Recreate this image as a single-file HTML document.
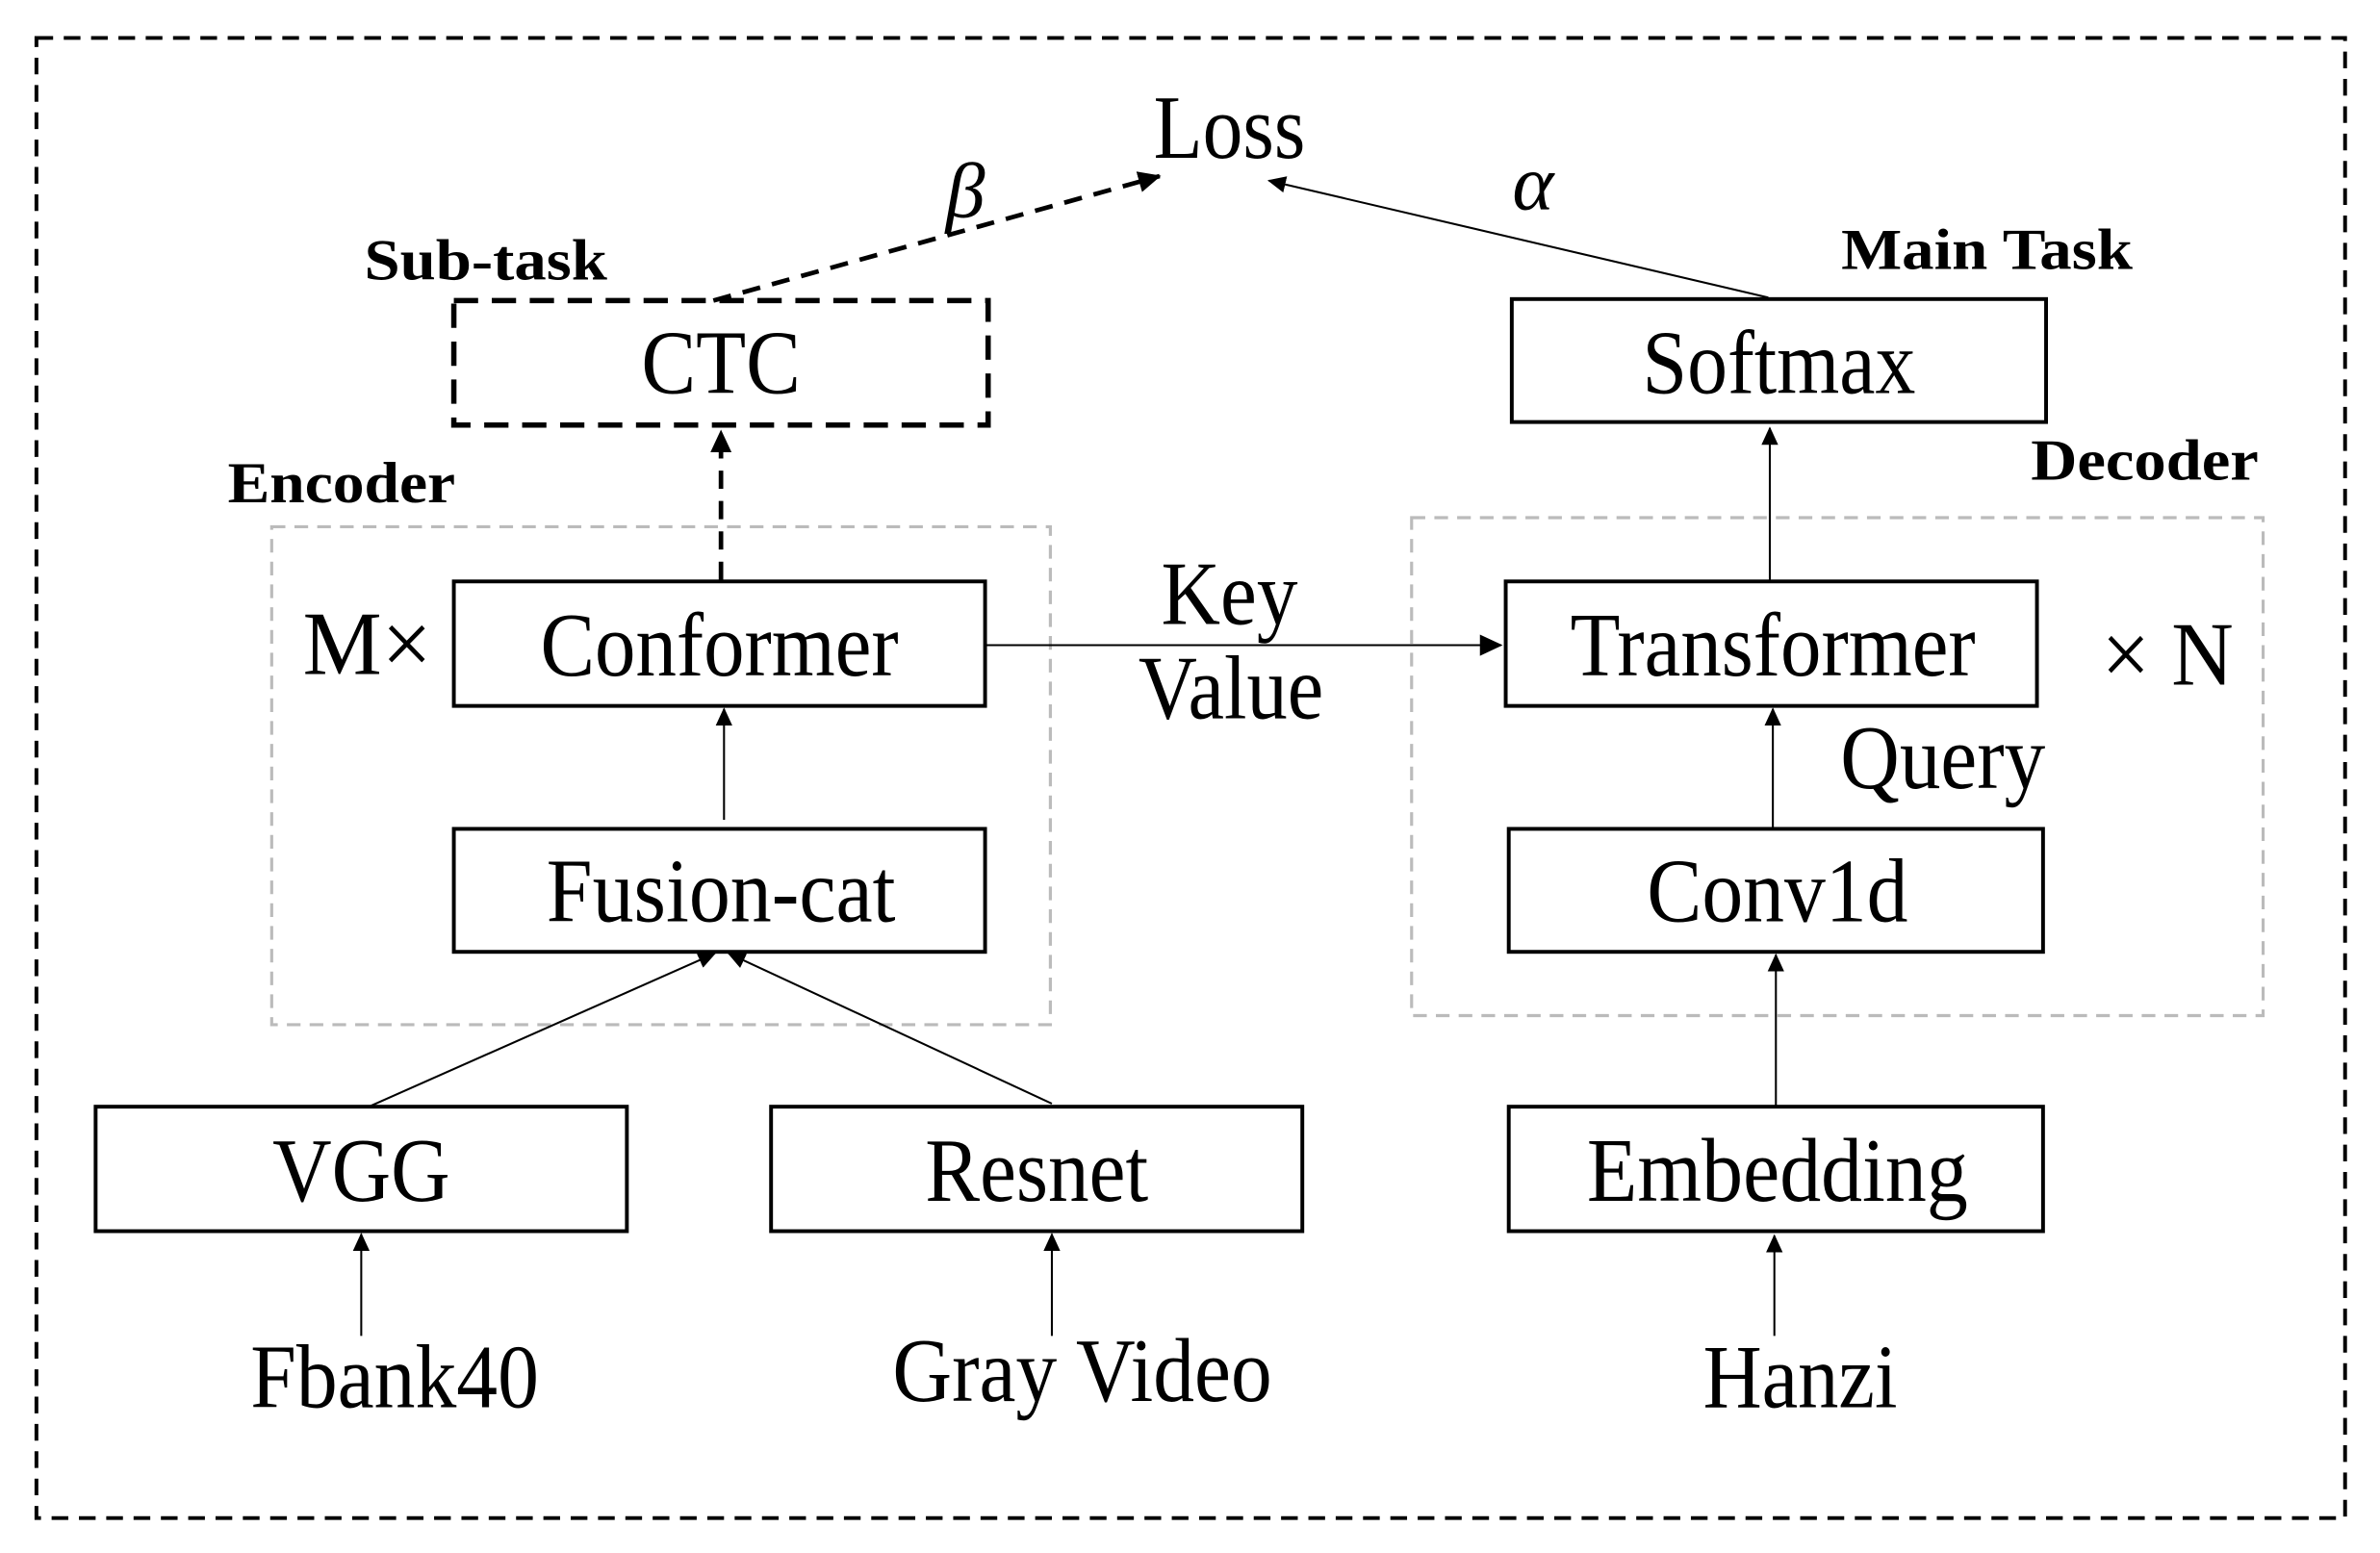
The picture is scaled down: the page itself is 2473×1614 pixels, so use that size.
<!DOCTYPE html>
<html><head><meta charset="utf-8"><style>html,body{margin:0;padding:0;background:#fff}svg{display:block}</style></head>
<body>
<svg width="2473" height="1614" viewBox="0 0 1568 1023" preserveAspectRatio="none" xmlns="http://www.w3.org/2000/svg" font-family="'Liberation Serif', serif">
<defs>
<marker id="a" markerWidth="12" markerHeight="12" refX="11" refY="6" orient="auto" markerUnits="userSpaceOnUse"><path d="M0,0.5 L12,6 L0,11.5 z" fill="#000"/></marker>
<marker id="b" markerWidth="16" markerHeight="16" refX="14" refY="8" orient="auto" markerUnits="userSpaceOnUse"><path d="M0,1 L15,8 L0,15 z" fill="#000"/></marker>
</defs>
<rect x="0" y="0" width="1568" height="1023" fill="#fff"/>
<rect x="24" y="25" width="1521" height="975" fill="none" stroke="#000" stroke-width="2.5" stroke-dasharray="11,7"/>
<rect x="179" y="347" width="513" height="328" fill="none" stroke="#bbb" stroke-width="2" stroke-dasharray="9,6"/>
<rect x="930" y="341" width="561" height="328" fill="none" stroke="#bbb" stroke-width="2" stroke-dasharray="9,6"/>
<rect x="299" y="198" width="352" height="82" fill="none" stroke="#000" stroke-width="3.5" stroke-dasharray="16,9"/>
<g fill="none" stroke="#000" stroke-width="2.5">
<rect x="996" y="197" width="352" height="81"/>
<rect x="299" y="383" width="350" height="82"/>
<rect x="992" y="383" width="350" height="82"/>
<rect x="299" y="546" width="350" height="81"/>
<rect x="994" y="546" width="352" height="81"/>
<rect x="63" y="729" width="350" height="82"/>
<rect x="508" y="729" width="350" height="82"/>
<rect x="994" y="729" width="352" height="82"/>
</g>
<g stroke="#000" stroke-width="1.3" fill="none">
<line x1="1165" y1="196" x2="836" y2="119" marker-end="url(#a)"/>
<line x1="649" y1="425" x2="989" y2="425" marker-end="url(#b)"/>
<line x1="1166" y1="383" x2="1166" y2="282" marker-end="url(#a)"/>
<line x1="1168" y1="545" x2="1168" y2="467" marker-end="url(#a)"/>
<line x1="477" y1="540" x2="477" y2="467" marker-end="url(#a)"/>
<line x1="1170" y1="729" x2="1170" y2="629" marker-end="url(#a)"/>
<line x1="243" y1="729" x2="471" y2="628" marker-end="url(#a)"/>
<line x1="693" y1="727" x2="480" y2="628" marker-end="url(#a)"/>
<line x1="238" y1="880" x2="238" y2="813" marker-end="url(#a)"/>
<line x1="693" y1="880" x2="693" y2="813" marker-end="url(#a)"/>
<line x1="1169" y1="880" x2="1169" y2="814" marker-end="url(#a)"/>
</g>
<g stroke="#000" stroke-width="3" fill="none" stroke-dasharray="12,8">
<line x1="470" y1="198" x2="764" y2="116" marker-end="url(#b)"/>
<line x1="475" y1="382" x2="475" y2="284" marker-end="url(#b)"/>
</g>
<g font-size="60" text-anchor="middle" fill="#000">
<text x="810" y="104" textLength="100" lengthAdjust="spacingAndGlyphs">Loss</text>
<text x="475" y="259" textLength="105" lengthAdjust="spacingAndGlyphs">CTC</text>
<text x="1172" y="259" textLength="180" lengthAdjust="spacingAndGlyphs">Softmax</text>
<text x="474" y="445" textLength="236" lengthAdjust="spacingAndGlyphs">Conformer</text>
<text x="1168" y="445" textLength="267" lengthAdjust="spacingAndGlyphs">Transformer</text>
<text x="475" y="607" textLength="230" lengthAdjust="spacingAndGlyphs">Fusion-cat</text>
<text x="1171" y="607" textLength="172" lengthAdjust="spacingAndGlyphs">Conv1d</text>
<text x="238" y="791" textLength="117" lengthAdjust="spacingAndGlyphs">VGG</text>
<text x="683" y="791" textLength="147" lengthAdjust="spacingAndGlyphs">Resnet</text>
<text x="1171" y="791" textLength="251" lengthAdjust="spacingAndGlyphs">Embedding</text>
<text x="260" y="927" textLength="190" lengthAdjust="spacingAndGlyphs">Fbank40</text>
<text x="713" y="923" textLength="250" lengthAdjust="spacingAndGlyphs">Gray Video</text>
<text x="1186" y="927" textLength="128" lengthAdjust="spacingAndGlyphs">Hanzi</text>
<text x="810" y="411" textLength="90" lengthAdjust="spacingAndGlyphs">Key</text>
<text x="811" y="473" textLength="122" lengthAdjust="spacingAndGlyphs">Value</text>
<text x="1280" y="519" textLength="135" lengthAdjust="spacingAndGlyphs">Query</text>
<text x="242" y="444" textLength="85" lengthAdjust="spacingAndGlyphs">M×</text>
<text x="1428" y="451" textLength="87" lengthAdjust="spacingAndGlyphs">× N</text>
<text x="636" y="143" font-style="italic" font-size="52">β</text>
<text x="1010" y="138" font-style="italic" font-size="52">α</text>
</g>
<g font-size="38" font-weight="bold" fill="#000">
<text x="240" y="184" textLength="160" lengthAdjust="spacingAndGlyphs">Sub-task</text>
<text x="1213" y="177" textLength="192" lengthAdjust="spacingAndGlyphs">Main Task</text>
<text x="150" y="331" textLength="150" lengthAdjust="spacingAndGlyphs">Encoder</text>
<text x="1338" y="316" textLength="150" lengthAdjust="spacingAndGlyphs">Decoder</text>
</g>
</svg>
</body></html>
